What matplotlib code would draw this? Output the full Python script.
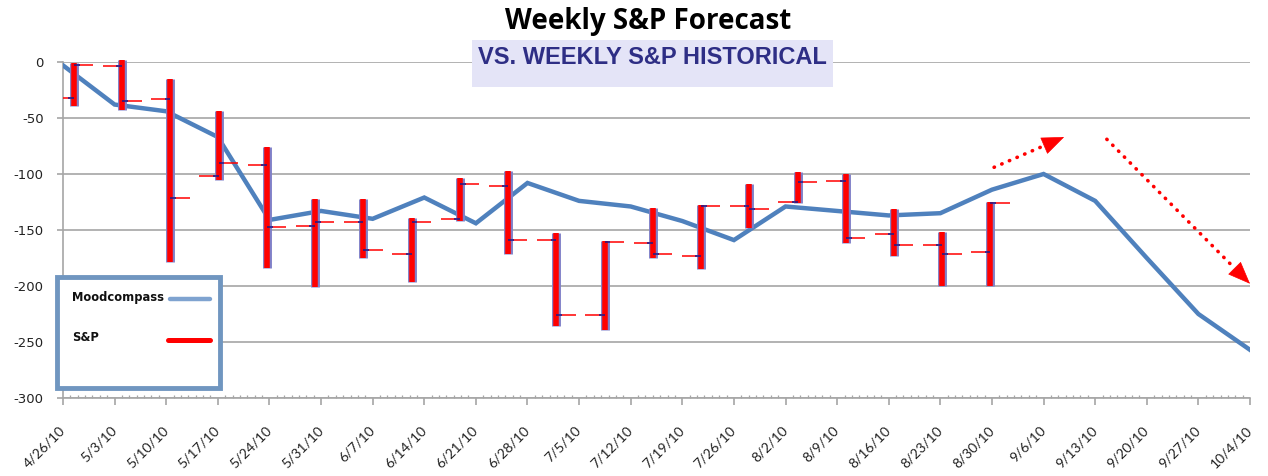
import matplotlib
matplotlib.use('Agg')
import matplotlib.pyplot as plt
import matplotlib.dates as mdates
from matplotlib.patches import Rectangle
from matplotlib.transforms import ScaledTranslation
from datetime import datetime, timedelta

plt.rcParams['axes.unicode_minus'] = False

# weekly Moodcompass forecast
start = datetime(2010, 4, 26)
weeks = [start + timedelta(days=7 * i) for i in range(24)]
mood = [-3, -38, -44, -67, -141, -133, -140, -121, -144, -108, -124, -129,
        -142, -159, -129, -133, -137, -135, -114, -100, -124, -175, -225, -257]

# weekly S&P (high / low / open / close), 20 weeks
sp_high = [-1, 2, -15, -44, -76, -122, -122, -139, -104, -97, -153, -160,
           -130, -128, -109, -98, -100, -131, -152, -125]
sp_low = [-39, -43, -179, -105, -184, -201, -175, -196, -142, -171, -236, -239,
          -175, -185, -148, -126, -162, -173, -200, -200]
sp_open = [-32, -4, -33, -102, -92, -146, -143, -171, -140, -111, -159, -226,
           -162, -173, -129, -125, -106, -154, -163, -170]
sp_close = [-3, -35, -121, -90, -147, -143, -168, -143, -109, -159, -226, -161,
            -171, -129, -131, -107, -157, -163, -171, -126]

# dotted trend arrows (date, value)
arrow_up = [(datetime(2010, 8, 30, 7), -94), (datetime(2010, 9, 8, 19), -67)]
arrow_down = [(datetime(2010, 9, 14, 14), -69), (datetime(2010, 10, 4, 0), -198)]

grid_c = '#A6A6A6'
blue = '#4F81BD'

fig = plt.figure(figsize=(12.68, 4.76), dpi=100)
ax = fig.add_axes([63 / 1268, 1 - 398 / 476, 1187 / 1268, 336 / 476])

ax.plot(weeks, mood, color=blue, lw=3.2, solid_joinstyle='miter', zorder=3)

ax.set_xlim(weeks[0], weeks[-1])
ax.set_ylim(-300, 0)
ax.set_yticks(range(-300, 1, 50))
ax.yaxis.grid(True, color=grid_c, lw=1.2)
ax.set_axisbelow(True)
for s in ['top', 'right']:
    ax.spines[s].set_visible(False)
for s in ['left', 'bottom']:
    ax.spines[s].set_color(grid_c)
    ax.spines[s].set_linewidth(1.2)

ax.set_xticks(weeks)
ax.set_xticklabels([f"{d.month}/{d.day}/{d.strftime('%y')}" for d in weeks],
                   rotation=45, ha='right', va='center', rotation_mode='anchor',
                   fontsize=10, family='Lato', color='#222222')
shift = ScaledTranslation(11 / 100, 0, fig.dpi_scale_trans)
for lab in ax.get_xticklabels():
    lab.set_transform(lab.get_transform() + shift)
ax.xaxis.set_minor_locator(mdates.DayLocator())
ax.tick_params(axis='x', which='major', length=5, color=grid_c, width=1.2, pad=17)
ax.tick_params(axis='x', which='minor', direction='in', length=2.5,
               color=grid_c, width=0.9)
ax.tick_params(axis='y', length=4, color=grid_c, width=1.2, pad=10,
               labelsize=9.5, labelcolor='#222222')

# S&P bars on their own category axis
axb = ax.twiny()
axb.set_xlim(-0.228, 24.38)
axb.set_ylim(-300, 0)
axb.axis('off')
idx = list(range(len(sp_high)))
axb.vlines(idx, sp_low, sp_high, colors='#8080C8', lw=6.4, clip_on=False, zorder=4)
axb.vlines(idx, sp_low, sp_high, colors='#FF0000', lw=4.0, clip_on=False, zorder=5)
tl = 0.4
axb.hlines(sp_open, [i - tl for i in idx], idx, colors='#FF0000', lw=1.1, zorder=3)
axb.hlines(sp_close, idx, [i + tl for i in idx], colors='#FF0000', lw=1.1, zorder=3)
axb.hlines(sp_open, [i - 0.12 for i in idx], idx, colors='#1A1A8C', lw=1.1, zorder=6)
axb.hlines(sp_close, idx, [i + 0.12 for i in idx], colors='#1A1A8C', lw=1.1, zorder=6)

# trend arrows: dotted shaft + solid head
for a in [arrow_up, arrow_down]:
    (x0, y0), (x1, y1) = a
    ax.plot([x0, x0 + (x1 - x0) * 0.86], [y0, y0 + (y1 - y0) * 0.86],
            color='#FF0000', lw=2.6, linestyle=(0, (0.1, 2.2)),
            dash_capstyle='round', clip_on=False, zorder=6)
    hx = x0 + (x1 - x0) * 0.9
    hy = y0 + (y1 - y0) * 0.9
    ax.annotate('', xy=(x1, y1), xytext=(hx, hy),
                arrowprops=dict(arrowstyle='-|>,head_length=1.5,head_width=0.6',
                                color='#FF0000', lw=0.5, shrinkA=0, shrinkB=0),
                annotation_clip=False, zorder=6)

# legend box
ax.add_patch(Rectangle((-0.005, 0.03), 0.137, 0.33, transform=ax.transAxes,
                       facecolor='white', edgecolor='#7096C0', lw=3.5,
                       clip_on=False, zorder=8))
ax.text(0.0076, 0.298, 'Moodcompass', transform=ax.transAxes, fontsize=8.3,
        fontweight='bold', va='center', ha='left', color='#111111', zorder=9)
ax.text(0.0076, 0.179, 'S&P', transform=ax.transAxes, fontsize=8.3,
        fontweight='bold', va='center', ha='left', color='#111111', zorder=9)
ax.plot([0.0902, 0.124], [0.295, 0.295], transform=ax.transAxes, color='#7FA3D0',
        lw=3.2, solid_capstyle='round', clip_on=False, zorder=9)
ax.plot([0.0885, 0.124], [0.173, 0.173], transform=ax.transAxes, color='#FF0000',
        lw=3.6, solid_capstyle='round', clip_on=False, zorder=9)

# titles
fig.text(648 / 1268, 1 - 21 / 476, 'Weekly S&P Forecast', ha='center', va='center',
         fontsize=20, fontweight='bold', family='Open Sans', color='black')
fig.add_artist(Rectangle((472 / 1268, 1 - 87 / 476), 361 / 1268, 47 / 476,
                         transform=fig.transFigure, facecolor='#E4E4F7',
                         edgecolor='none', zorder=2))
fig.text(652 / 1268, 1 - 58 / 476, 'VS. WEEKLY S&P HISTORICAL', ha='center',
         va='center', fontsize=17, fontweight='bold', family='Liberation Sans',
         color='#2E2E85', zorder=3)

fig.savefig('out.png', dpi=100)
